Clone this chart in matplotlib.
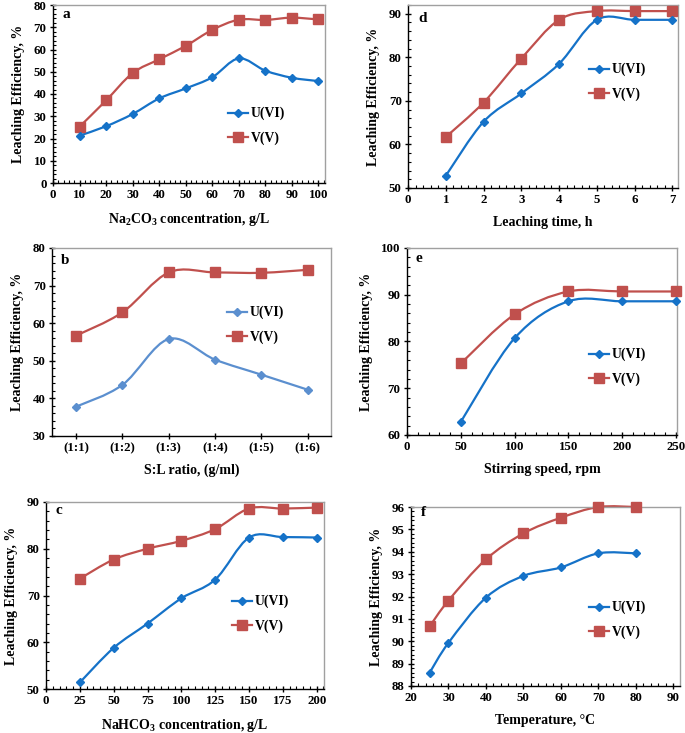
import numpy as np
import matplotlib
matplotlib.use("Agg")
import matplotlib.pyplot as plt
from matplotlib.path import Path
from matplotlib.patches import PathPatch
from matplotlib.lines import Line2D
from matplotlib.ticker import MultipleLocator

plt.rcParams['font.family'] = ['Liberation Serif', 'DejaVu Serif']
plt.rcParams['font.weight'] = 'bold'
plt.rcParams['mathtext.fontset'] = 'custom'
plt.rcParams['mathtext.rm'] = 'Liberation Serif:bold'
plt.rcParams['mathtext.default'] = 'rm'

# ---------------- data ----------------
a_x = [10, 20, 30, 40, 50, 60, 70, 80, 90, 100]
a_u = [21.3, 25.5, 31.0, 38.0, 42.5, 47.5, 56.0, 50.5, 47.3, 45.8]
a_v = [25.3, 37.1, 49.4, 55.6, 61.6, 68.8, 73.4, 73.3, 74.3, 73.5]

d_x = [1, 2, 3, 4, 5, 6, 7]
d_u = [52.8, 65.2, 71.7, 78.5, 88.6, 88.6, 88.6]
d_v = [61.7, 69.6, 79.7, 88.6, 90.6, 90.6, 90.6]

b_labels = ['(1:1)', '(1:2)', '(1:3)', '(1:4)', '(1:5)', '(1:6)']
b_u = [37.8, 43.6, 55.8, 50.3, 46.3, 42.3]
b_v = [56.7, 62.9, 73.5, 73.5, 73.4, 74.2]

e_x = [50, 100, 150, 200, 250]
e_u = [62.8, 80.7, 88.6, 88.6, 88.6]
e_v = [75.3, 85.8, 90.7, 90.7, 90.7]

c_x = [25, 50, 75, 100, 125, 150, 175, 200]
c_u = [51.4, 58.8, 64.0, 69.4, 73.4, 82.4, 82.5, 82.4]
c_v = [73.6, 77.7, 80.0, 81.7, 84.2, 88.6, 88.6, 88.8]

f_x = [25, 30, 40, 50, 60, 70, 80]
f_u = [88.6, 89.93, 91.95, 92.92, 93.3, 93.93, 93.93]
f_v = [90.67, 91.82, 93.66, 94.82, 95.52, 96.0, 96.0]

series_names = ['U(VI)', 'V(V)']

BLUE = '#1572C8'
BLUE_B = '#5B8FCF'
RED = '#C0504D'

W, H = 685, 733
fig = plt.figure(figsize=(W / 100, H / 100), dpi=100)


def add_axes(l, r, t, b):
    return fig.add_axes([l / W, 1 - b / H, (r - l) / W, (b - t) / H])


def smooth(ax, x, y, color):
    pts = np.column_stack([np.asarray(x, float), np.asarray(y, float)])
    n = len(pts)
    verts = [pts[0]]
    codes = [Path.MOVETO]
    for i in range(n - 1):
        p_prev = pts[max(i - 1, 0)]
        p_next = pts[min(i + 2, n - 1)]
        c1 = pts[i] + (pts[i + 1] - p_prev) / 6.0
        c2 = pts[i + 1] - (p_next - pts[i]) / 6.0
        verts += [c1, c2, pts[i + 1]]
        codes += [Path.CURVE4] * 3
    ax.add_patch(PathPatch(Path(verts, codes), fill=False, edgecolor=color,
                           lw=1.6, zorder=2, clip_on=False))


def panel(ax, x, u, v, ucol, letter, xlim, ylim, xmaj, ymaj, xmin, ymin,
          xlabel, leg_xy, letter_xy, xticklabels=None):
    smooth(ax, x, v, RED)
    smooth(ax, x, u, ucol)
    ax.plot(x, v, ls='none', marker='s', ms=6.5, color=RED, zorder=3,
            clip_on=False)
    ax.plot(x, u, ls='none', marker='D', ms=4, color=ucol, zorder=3,
            clip_on=False)
    ax.set_xlim(*xlim)
    ax.set_ylim(*ylim)
    ax.xaxis.set_major_locator(MultipleLocator(xmaj))
    ax.yaxis.set_major_locator(MultipleLocator(ymaj))
    if xmin:
        ax.xaxis.set_minor_locator(MultipleLocator(xmin))
    if ymin:
        ax.yaxis.set_minor_locator(MultipleLocator(ymin))
    if xticklabels is not None:
        ax.set_xticks(x)
        ax.set_xticklabels(xticklabels)
    ax.tick_params(which='major', direction='inout', length=5, width=1,
                   labelsize=9.3, pad=2)
    ax.tick_params(which='minor', direction='in', length=2.5, width=0.8)
    for lab in ax.get_xticklabels() + ax.get_yticklabels():
        lab.set_fontweight('bold')
    for s in ['left', 'bottom']:
        ax.spines[s].set_color('black')
        ax.spines[s].set_linewidth(1)
    for s in ['right', 'top']:
        ax.spines[s].set_color('#a0a0a0')
        ax.spines[s].set_linewidth(1)
    ax.set_ylabel('Leaching Efficiency, %', fontsize=10, fontweight='bold',
                  labelpad=6)
    ax.set_xlabel(xlabel, fontsize=10, fontweight='bold', labelpad=7)
    hu = Line2D([], [], color=ucol, lw=1.6, marker='D', ms=4)
    hv = Line2D([], [], color=RED, lw=1.6, marker='s', ms=6.5)
    ax.legend([hu, hv], series_names, loc='upper left',
              bbox_to_anchor=(leg_xy[0] / W, 1 - leg_xy[1] / H),
              bbox_transform=fig.transFigure, frameon=False,
              prop={'weight': 'bold', 'size': 9.8}, handlelength=1.5,
              handletextpad=0.15, labelspacing=0.8, borderpad=0,
              borderaxespad=0)
    fig.text(letter_xy[0] / W, 1 - letter_xy[1] / H, letter, fontsize=11,
             fontweight='bold', ha='left', va='center')


ax = add_axes(53, 325, 5, 183)
panel(ax, a_x, a_u, a_v, BLUE, 'a', (0, 102.5), (0, 80), 10, 10, 2, 2,
      'Na$_2$CO$_3$ concentration, g/L', (228, 107), (63, 15))

ax = add_axes(408, 678, 5, 188)
panel(ax, d_x, d_u, d_v, BLUE, 'd', (0, 7.15), (50, 92), 1, 10, 0.2, 2,
      'Leaching time, h', (589, 63), (418, 18))

ax = add_axes(52, 331, 248, 436)
panel(ax, [1, 2, 3, 4, 5, 6], b_u, b_v, BLUE_B, 'b', (0.48, 6.5), (30, 80),
      1, 10, None, 2, 'S:L ratio, (g/ml)', (227, 306), (61, 260),
      xticklabels=b_labels)

ax = add_axes(407, 677, 248, 435)
panel(ax, e_x, e_u, e_v, BLUE, 'e', (0, 251), (60, 100), 50, 10, 10, 2,
      'Stirring speed, rpm', (589, 348), (416, 258))

ax = add_axes(46, 324, 502, 689)
panel(ax, c_x, c_u, c_v, BLUE, 'c', (0, 205.4), (50, 90), 25, 10, 5, 2,
      'NaHCO$_3$ concentration, g/L', (232, 595), (55, 510))

ax = add_axes(411, 680, 507, 686)
panel(ax, f_x, f_u, f_v, BLUE, 'f', (20, 91.8), (88, 96), 10, 1, 2, 0.2,
      'Temperature, °C', (589, 601), (421, 513))

fig.savefig('out.png', dpi=100)
